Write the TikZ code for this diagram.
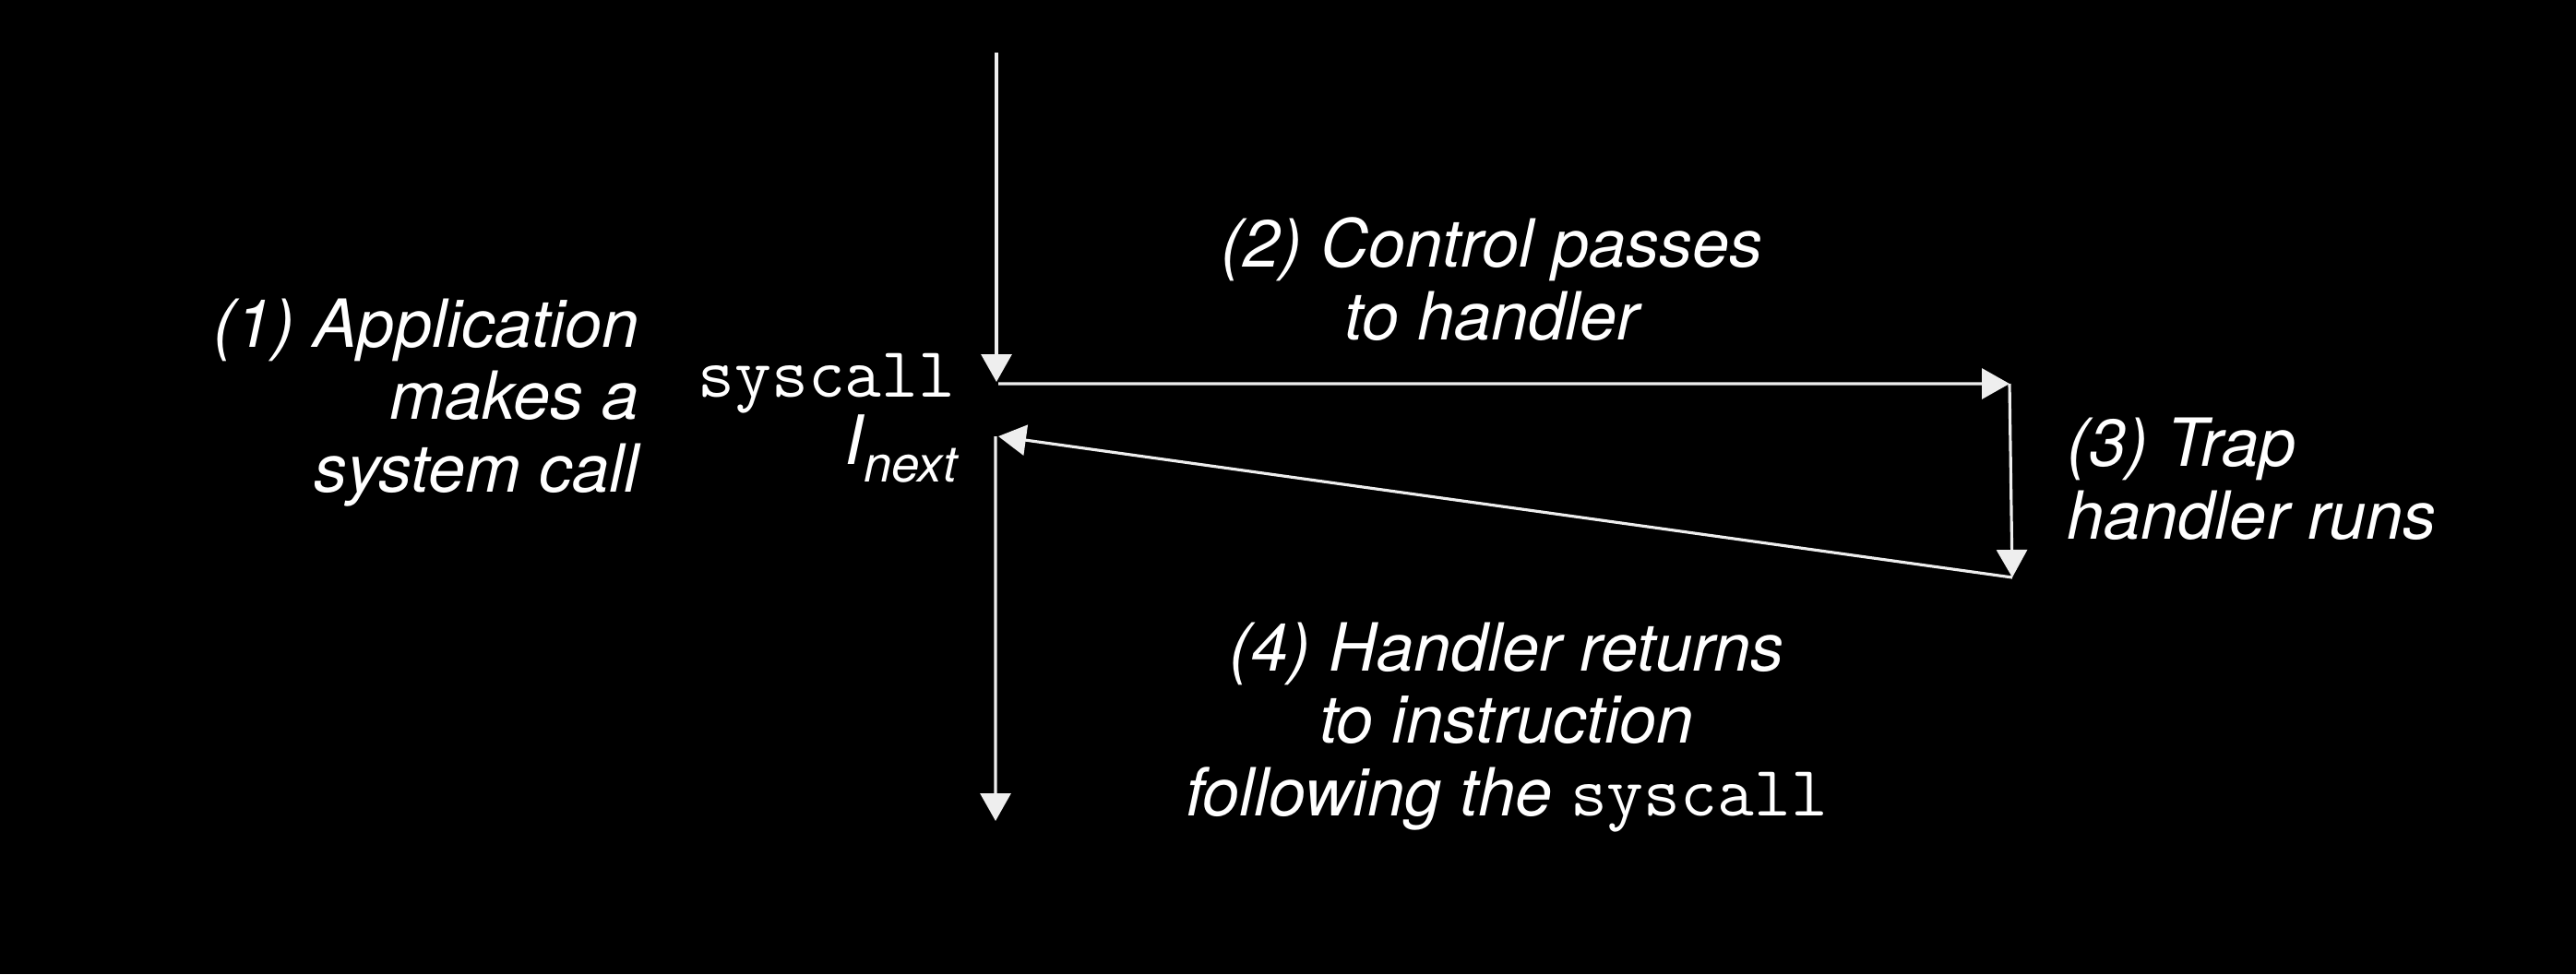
\documentclass[tikz,border=0pt]{standalone}
\usepackage{fontspec}
\setmainfont{TeX Gyre Heros}
\usepackage{tikz}
\usetikzlibrary{arrows.meta,positioning}
\definecolor{tracewhite}{RGB}{238,238,238}
\tikzstyle{flowarrow} = [line width=0.9pt,-{Triangle[length=0.30cm,width=0.33cm]},color=tracewhite]
\tikzstyle{notetext} = [text=white, inner sep=0pt, font=\fontsize{20.5}{22.2}\selectfont\itshape]
\tikzstyle{codetext} = [text=white, inner sep=0pt, font=\fontsize{22}{24}\selectfont\ttfamily]

\begin{document}
\begin{tikzpicture}
% Canvas
\fill[black] (0,0) rectangle (27.92,-10.56);

% Points on the control flow
\coordinate (start) at (10.80,-0.57);
\coordinate (call) at (10.80,-4.14);
\coordinate (trapin) at (21.78,-4.16);
\coordinate (trapout) at (21.81,-6.26);
\coordinate (next) at (10.82,-4.73);
\coordinate (end) at (10.79,-8.90);

% Labels (anchored on their last line)
\node[notetext, align=right, anchor=base east] (app) at (6.93,-5.33) {(1) Application\\makes a\\system call};
\node[codetext, anchor=base east] (sys) at (10.36,-4.30) {syscall};
\node[notetext, anchor=base east] (inext) at (10.38,-5.03) {\fontsize{21}{22}\selectfont I\raisebox{-0.19cm}{\fontsize{15.5}{16}\selectfont next}};
\node[notetext, align=center, anchor=base] (ctrl) at (16.17,-3.68) {(2) Control passes\\to handler};
\node[notetext, align=left, anchor=base west] (trap) at (22.40,-5.84) {(3) Trap\\handler runs};
\node[notetext, align=center, anchor=base] (ret) at (16.33,-8.84) {(4) Handler returns\\to instruction\\following the {\upshape\ttfamily\fontsize{22}{24}\selectfont syscall}};

% Flow
\draw[flowarrow] (start) -- (call);
\draw[flowarrow] ([xshift=0.02cm,yshift=-0.02cm]call) -- (trapin);
\draw[flowarrow] (trapin) -- (trapout);
\draw[flowarrow] (trapout) -- (next);
\draw[flowarrow] ([xshift=-0.03cm]next) -- (end);
\end{tikzpicture}
\end{document}
